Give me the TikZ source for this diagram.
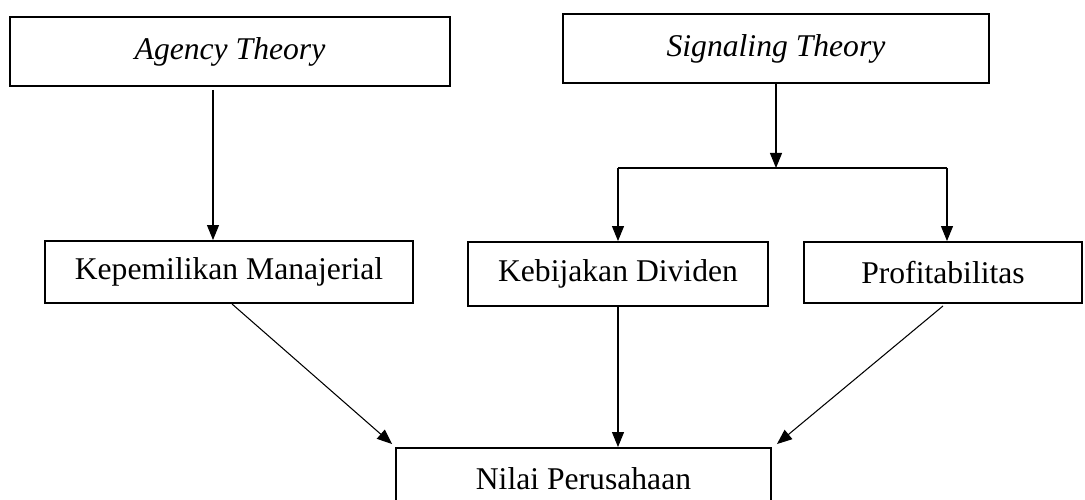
\documentclass[tikz,border=0pt]{standalone}
\usepackage{fontspec}
\setmainfont{Liberation Serif}
\usepackage{tikz}
\usetikzlibrary{arrows.meta,positioning,calc}

\tikzset{
  varbox/.style={draw, line width=1.1pt, minimum height=1.26cm, inner sep=0pt,
    font=\fontsize{18}{22}\selectfont},
  arr/.style={line width=0.6pt, -{Triangle[length=0.3cm,width=0.24cm]}}
}

\begin{document}
\begin{tikzpicture}
    \useasboundingbox (0,0) rectangle (21.7,9.98);
    \clip (0,0) rectangle (21.7,9.98);
    % theories on top
    \node[varbox, minimum width=8.8cm, minimum height=1.38cm] (agency) at (4.6,8.95) {\textit{Agency Theory}};
    \node[varbox, minimum width=8.52cm, minimum height=1.38cm] (signal) at (15.52,9.01) {\textit{Signaling Theory}};
    % independent variables
    \node[varbox, minimum width=7.36cm, minimum height=1.24cm] (kepemilikan) at (4.58,4.54) {Kepemilikan Manajerial};
    \node[varbox, minimum width=6.0cm, minimum height=1.28cm] (kebijakan) at (12.36,4.5) {Kebijakan Dividen};
    \node[varbox, minimum width=5.56cm, minimum height=1.22cm] (profit) at (18.86,4.53) {Profitabilitas};
    % dependent variable -- bottom edge runs off the page
    \node[varbox, minimum width=7.5cm, minimum height=1.24cm] (nilai) at (11.67,0.4) {Nilai Perusahaan};

    % agency theory to kepemilikan
    \draw[arr] ([yshift=-0.06cm]agency.south -| 4.26,0) -- (kepemilikan.north -| 4.26,0);
    % signaling theory splits to dividen and profitabilitas
    \coordinate (split) at (signal.south |- 0,6.62);
    \draw[arr] (signal.south) -- (split);
    \draw[line width=0.6pt] (kebijakan.north |- split) -- (18.94,6.62);
    \draw[arr] (kebijakan.north |- split) -- (kebijakan.north);
    \draw[arr] (18.94,6.62) -- (profit.north -| 18.94,0);
    % all three to nilai perusahaan
    \draw[arr] ([xshift=0.06cm]kepemilikan.south) -- ([xshift=-0.06cm,yshift=0.06cm]nilai.north west);
    \draw[arr] (kebijakan.south) -- (kebijakan.south |- nilai.north);
    \draw[arr] ([yshift=-0.04cm]profit.south) -- ([xshift=0.1cm,yshift=0.06cm]nilai.north east);
\end{tikzpicture}
\end{document}
